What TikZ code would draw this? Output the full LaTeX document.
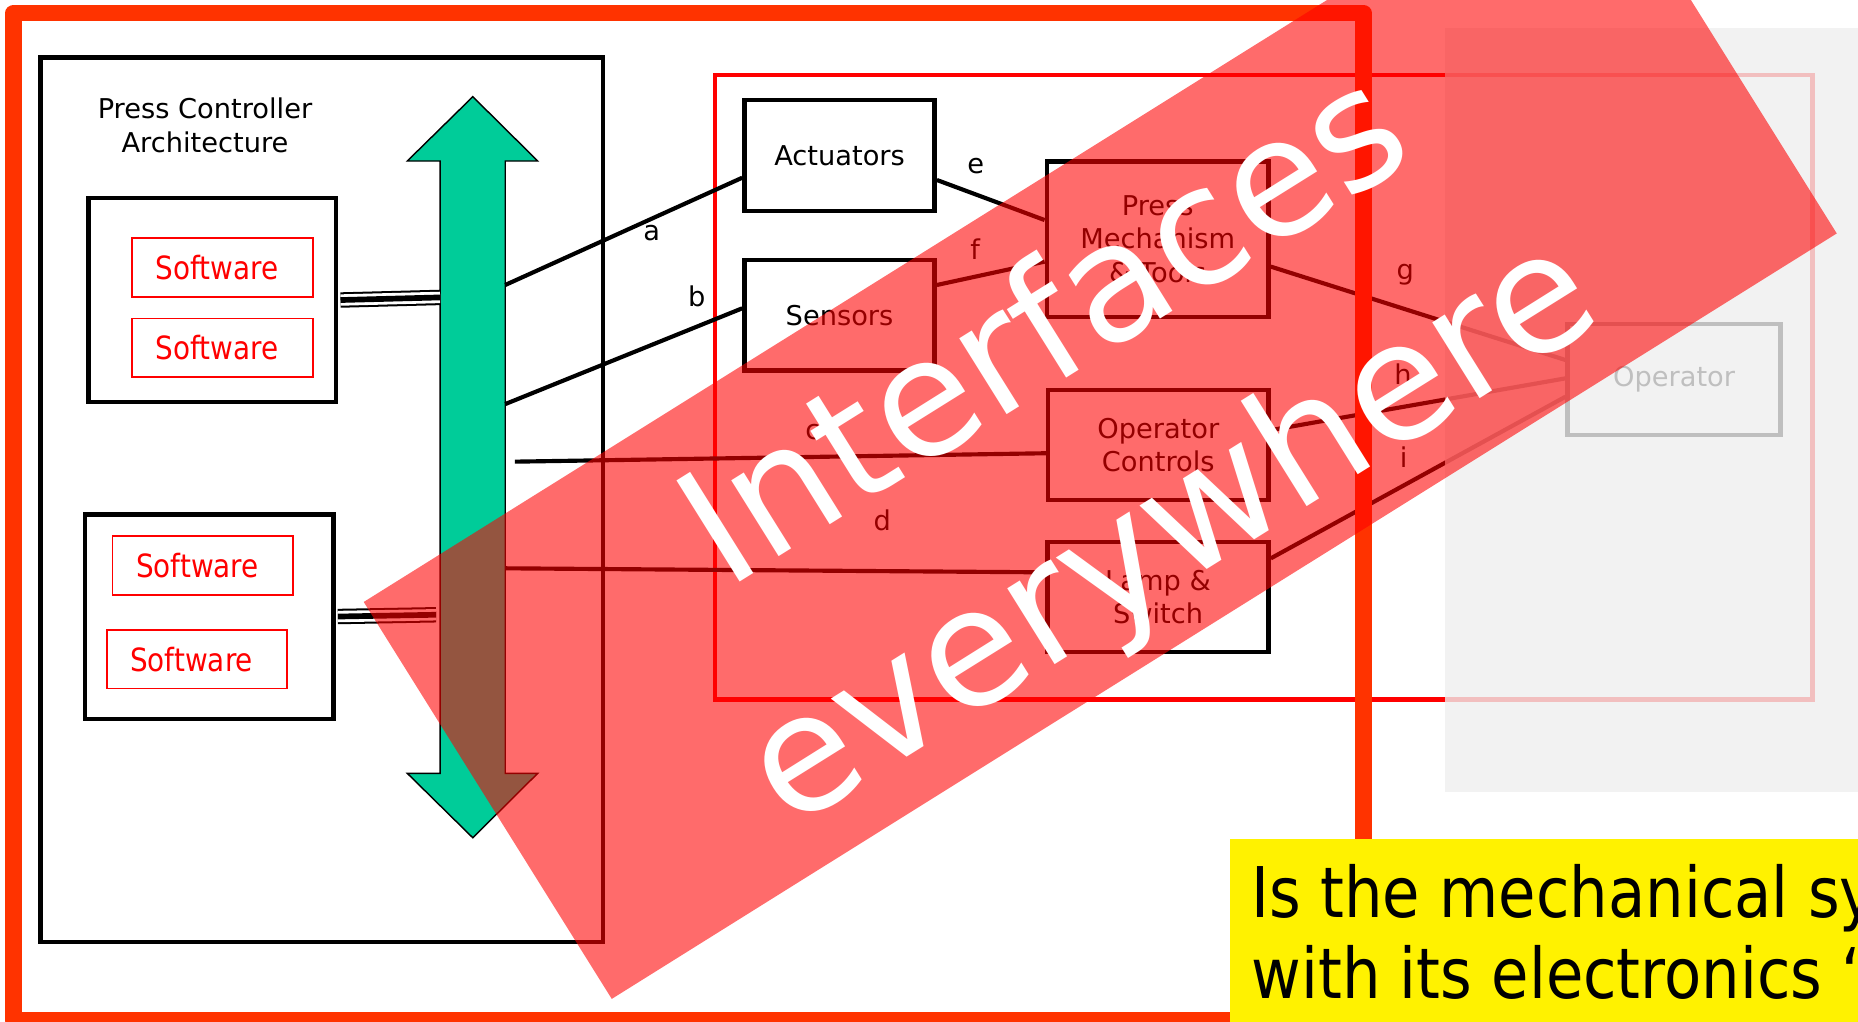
\documentclass[tikz,border=0pt]{standalone}
\usepackage{fontspec}
\setmainfont{DejaVu Sans}
\newfontfamily\narrowfont[FakeStretch=0.87]{DejaVu Sans}
\usetikzlibrary{calc}

\definecolor{frameorange}{HTML}{FF3300}
\definecolor{busgreen}{HTML}{00CC99}
\definecolor{veil}{gray}{0.937}

\begin{document}
\begin{tikzpicture}[x=1pt,y=-1pt,font=\fontsize{23}{28.5}\selectfont,
  unit/.style={draw,line width=3.8pt,inner sep=0pt,align=center},
  swbox/.style={draw=red,line width=1.5pt,text=red,inner sep=0pt,minimum width=152.4pt,minimum height=49.5pt,font=\narrowfont\fontsize{27}{30}\selectfont},
  link/.style={line width=3.5pt},
  triple/.style={draw=white,line width=9.6pt,preaction={draw=black,line width=13pt},postaction={draw=black,line width=4.8pt}},
  tag/.style={inner sep=0pt}]
\useasboundingbox[fill=white] (0,0) rectangle (1568,862);

% controller side
\node[unit,minimum width=474.8pt,minimum height=746.5pt] (ctrl) at (271.6,421.75) {};
\node[tag,align=center] (title) at (173,106) {Press Controller\\Architecture};
\node[unit,minimum width=208.7pt,minimum height=172.3pt] (cpu1) at (179.2,253.2) {};
\node[unit,minimum width=209.6pt,minimum height=172.6pt] (cpu2) at (176.5,520.3) {};
\node[swbox] (sw1) at (187.8,225.7) {\hspace*{-9pt}Software};
\node[swbox] (sw2) at (187.8,293.5) {\hspace*{-9pt}Software};
\node[swbox] (sw3) at (171.2,477.2) {\hspace*{-9pt}Software};
\node[swbox] (sw4) at (166.2,556.3) {\hspace*{-9pt}Software};

% bus
\filldraw[fill=busgreen,draw=black,line width=1.2pt] (399,81.6) -- (453.8,135.9) -- (426.4,135.9) -- (426.4,652.6)
  -- (453.8,652.6) -- (399,707) -- (343.7,652.6) -- (371.4,652.6) -- (371.4,135.9) -- (343.7,135.9) -- cycle;
\coordinate (tap1) at (371.4,251);
\coordinate (tap2) at (368,518.8);
\coordinate (tapa) at (426.4,240.5);
\coordinate (tapb) at (426.4,341);
\coordinate (tapc) at (434.5,389.6);
\coordinate (tapd) at (426.4,479.6);
\draw[triple] ($(cpu1.east)+(1.9,0)$) -- (tap1);
\draw[triple] ($(cpu2.east)+(1.9,0)$) -- (tap2);

% plant side
\node[draw=red,line width=3.5pt,inner sep=0pt,minimum width=926.5pt,minimum height=526.7pt] (plant) at (1066.3,327) {};
\node[unit,minimum width=160.5pt,minimum height=93.8pt] (act) at (708.5,131.1) {Actuators};
\node[unit,minimum width=160.5pt,minimum height=93.2pt] (sens) at (708.5,265.9) {Sensors};
\node[unit,minimum width=187.1pt,minimum height=131pt] (press) at (977,201.9) {Press\\Mechanism\\\& Tools};
\node[unit,minimum width=186.1pt,minimum height=92.8pt] (opctl) at (977.5,375.6) {Operator\\Controls};
\node[unit,minimum width=186.5pt,minimum height=92.9pt] (lamp) at (977.3,503.9) {Lamp \&\\Switch};
\node[unit,minimum width=179.6pt,minimum height=93.6pt] (oper) at (1412.8,320.4) {Operator};

% interfaces
\draw[link] (tapa) -- ($(act.west)+(0,18.9)$);
\draw[link] (tapb) -- ($(sens.west)+(0,-5.7)$);
\draw[link] (tapc) -- ($(opctl.west)+(0,6.9)$);
\draw[link] (tapd) -- ($(lamp.west)+(0,-20.9)$);
\draw[link] ($(act.east)+(0,20.8)$) -- ($(press.west)+(0,-16.2)$);
\draw[link] ($(sens.east)+(0,-25.4)$) -- ($(press.west)+(0,18.9)$);
\draw[link] ($(press.east)+(0,23.1)$) -- ($(oper.west)+(0,-16.6)$);
\draw[link] ($(opctl.east)+(0,-12.6)$) -- ($(oper.west)+(0,-1.1)$);
\draw[link] ($(lamp.east)+(0,-32.7)$) -- ($(oper.west)+(0,14.4)$);
\node[tag] (la) at (550,197) {a};
\node[tag] (lb) at (588,250) {b};
\node[tag] (lc) at (686,365) {c};
\node[tag] (ld) at (744.5,439) {d};
\node[tag] (le) at (823.5,140) {e};
\node[tag] (lf) at (823,210) {f};
\node[tag] (lg) at (1186,232) {g};
\node[tag] (lh) at (1184,316) {h};
\node[tag] (li) at (1184.5,385.5) {i};

% faded operator area
\fill[veil,fill opacity=.8] (1219.5,24) rectangle (1570,668);

% slide frame
\draw[frameorange,line width=14pt,line join=round] (11.5,11) rectangle (1150.5,861);

% banner
\node[fill=red,fill opacity=.58,rotate=32,inner sep=0pt,minimum width=1219pt,minimum height=395pt] (banner) at (928.5,352.5) {};
\node[text=white,rotate=32,inner sep=0pt,align=center,font=\fontsize{138}{200}\selectfont] (motto) at (938,368) {Interfaces\\everywhere};

% question
\node[fill=yellow,anchor=north west,inner sep=0pt,minimum width=540pt,minimum height=160pt] (query) at (1038.2,707.8) {};
\node[anchor=north west,inner sep=0pt,align=left,font=\narrowfont\fontsize{59}{68}\selectfont] (qtext) at (1056,729.2)
  {Is the mechanical sy\\with its electronics “t};
\end{tikzpicture}
\end{document}
